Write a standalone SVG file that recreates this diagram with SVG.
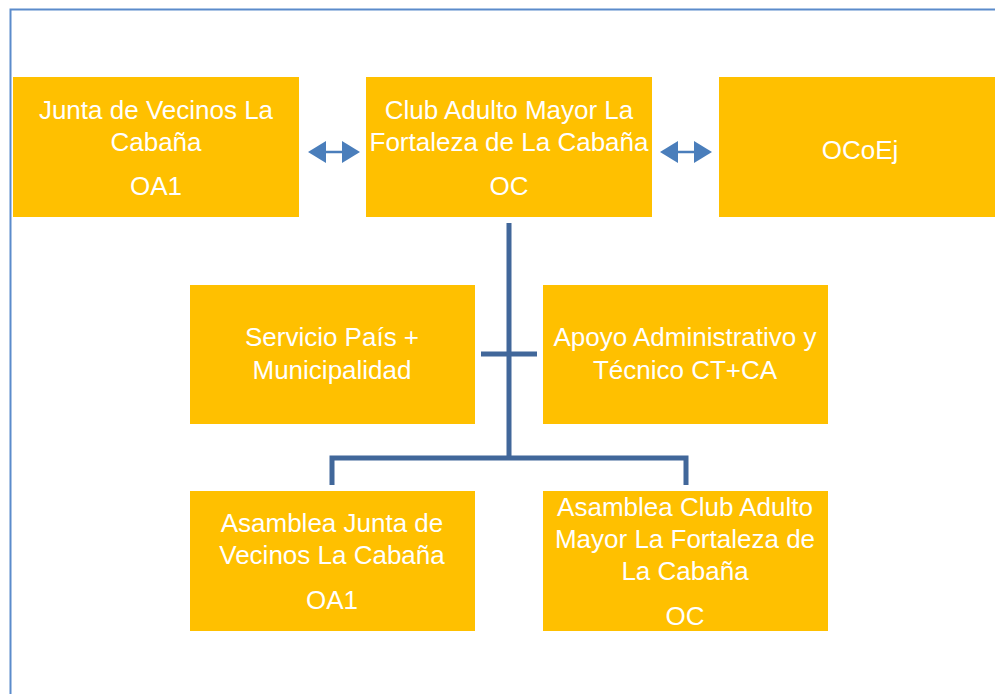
<svg xmlns="http://www.w3.org/2000/svg" width="995" height="694" viewBox="0 0 995 694">
<style>
.box{fill:#FFC000;}
.t{font-family:"Liberation Sans",Arial,sans-serif;font-size:26px;fill:#FFFFFF;text-anchor:middle;}
.conn{stroke:#41679A;stroke-width:5;fill:none;}
.dbl{stroke:#4A7EBB;stroke-width:2.5;fill:none;}
.head{fill:#4A7EBB;}
</style>
<rect x="10.5" y="9.5" width="1000" height="700" fill="#FFFFFF" stroke="#5B8BCB" stroke-width="2"/>
<g id="connectors">
<path class="conn" d="M509 223 V458"/>
<path class="conn" d="M481 354 H537"/>
<path class="conn" d="M332 485 V458 H686 V485"/>
<g id="arrow1">
<path class="dbl" d="M320 152 H348"/>
<polygon class="head" points="308,152 326,141 326,163"/>
<polygon class="head" points="360,152 342,141 342,163"/>
</g>
<g id="arrow2">
<path class="dbl" d="M672 152 H700"/>
<polygon class="head" points="660,152 678,141 678,163"/>
<polygon class="head" points="712,152 694,141 694,163"/>
</g>
</g>
<g id="n1"><rect class="box" x="13" y="77" width="286" height="140"/>
<text class="t" x="156" y="119">Junta de Vecinos La</text>
<text class="t" x="156" y="151">Cabaña</text>
<text class="t" x="156" y="195">OA1</text></g>
<g id="n2"><rect class="box" x="366" y="77" width="286" height="140"/>
<text class="t" x="509" y="119">Club Adulto Mayor La</text>
<text class="t" x="509" y="151">Fortaleza de La Cabaña</text>
<text class="t" x="509" y="195">OC</text></g>
<g id="n3"><rect class="box" x="719" y="77" width="280" height="140"/>
<text class="t" x="860" y="159">OCoEj</text></g>
<g id="n4"><rect class="box" x="190" y="285" width="285" height="139"/>
<text class="t" x="332" y="346">Servicio País +</text>
<text class="t" x="332" y="379">Municipalidad</text></g>
<g id="n5"><rect class="box" x="543" y="285" width="285" height="139"/>
<text class="t" x="685" y="346">Apoyo Administrativo y</text>
<text class="t" x="685" y="379">Técnico CT+CA</text></g>
<g id="n6"><rect class="box" x="190" y="491" width="285" height="140"/>
<text class="t" x="332" y="532">Asamblea Junta de</text>
<text class="t" x="332" y="564">Vecinos La Cabaña</text>
<text class="t" x="332" y="609">OA1</text></g>
<g id="n7"><rect class="box" x="543" y="491" width="285" height="140"/>
<text class="t" x="685" y="516">Asamblea Club Adulto</text>
<text class="t" x="685" y="548">Mayor La Fortaleza de</text>
<text class="t" x="685" y="580">La Cabaña</text>
<text class="t" x="685" y="625">OC</text></g>
</svg>
